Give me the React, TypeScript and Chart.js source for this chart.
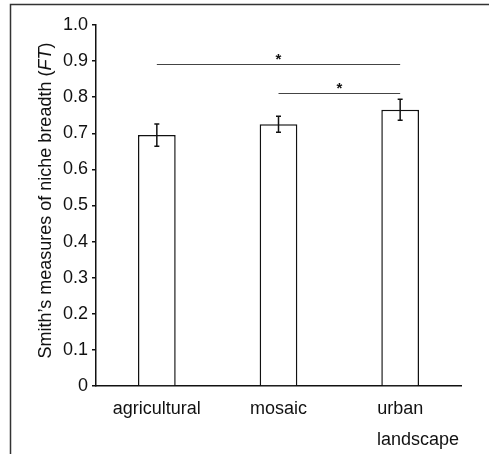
import React, { useEffect, useRef } from "react";
import { Chart, registerables } from "chart.js";

Chart.register(...registerables);

const categories = ["agricultural", "mosaic", "urban"];
const means = [0.695, 0.725, 0.765];
const errors = [0.031, 0.022, 0.029];
const yTickValues = [0, 0.1, 0.2, 0.3, 0.4, 0.5, 0.6, 0.7, 0.8, 0.9, 1.0];
const sigFrom = [0, 1];
const sigTo = [2, 2];
const sigLevel = [0.892, 0.8125];
const sigLabel = ["*", "*"];
const yTitleParts = ["Smith\u2019s measures of niche breadth (", "FT", ")"];
const yTitleItalic = [false, true, false];
const xTitle = "landscape";

const FONT = "'Liberation Sans', Arial, sans-serif";
const INK = "#111111";
const FS = 18;

const extrasPlugin = {
  id: "extras",
  afterDraw(chart: any) {
    const ctx = chart.ctx;
    const xs = chart.scales.x;
    const ys = chart.scales.y;
    ctx.save();
    // frame (top + left)
    ctx.strokeStyle = "#333";
    ctx.lineWidth = 1.5;
    ctx.beginPath();
    ctx.moveTo(10.5, 454);
    ctx.lineTo(10.5, 4.5);
    ctx.lineTo(489, 4.5);
    ctx.stroke();

    // error bars
    ctx.strokeStyle = INK;
    ctx.lineWidth = 1.5;
    for (let i = 0; i < means.length; i++) {
      const x = xs.getPixelForValue(i);
      const yt = ys.getPixelForValue(means[i] + errors[i]);
      const yb = ys.getPixelForValue(means[i] - errors[i]);
      ctx.beginPath();
      ctx.moveTo(x, yt);
      ctx.lineTo(x, yb);
      ctx.moveTo(x - 2.5, yt);
      ctx.lineTo(x + 2.5, yt);
      ctx.moveTo(x - 2.5, yb);
      ctx.lineTo(x + 2.5, yb);
      ctx.stroke();
    }

    // significance brackets
    for (let k = 0; k < sigFrom.length; k++) {
      const x1 = xs.getPixelForValue(sigFrom[k]);
      const x2 = xs.getPixelForValue(sigTo[k]);
      const y = Math.round(ys.getPixelForValue(sigLevel[k])) + 0.5;
      ctx.strokeStyle = "#444";
      ctx.lineWidth = 1;
      ctx.beginPath();
      ctx.moveTo(x1, y);
      ctx.lineTo(x2, y);
      ctx.stroke();
      ctx.fillStyle = INK;
      ctx.font = `bold 15px ${FONT}`;
      ctx.textAlign = "center";
      ctx.textBaseline = "middle";
      ctx.fillText(sigLabel[k], (x1 + x2) / 2, y - 5);
    }

    // y title (rotated, mixed italic)
    ctx.save();
    const cy = (ys.top + ys.bottom) / 2 - 5;
    ctx.translate(51, cy);
    ctx.rotate(-Math.PI / 2);
    ctx.fillStyle = INK;
    ctx.textBaseline = "alphabetic";
    ctx.textAlign = "left";
    const widths = yTitleParts.map((p, i) => {
      ctx.font = `${yTitleItalic[i] ? "italic " : ""}${FS}px ${FONT}`;
      return ctx.measureText(p).width;
    });
    const total = widths.reduce((a, b) => a + b, 0);
    let cx = -total / 2;
    yTitleParts.forEach((p, i) => {
      ctx.font = `${yTitleItalic[i] ? "italic " : ""}${FS}px ${FONT}`;
      ctx.fillText(p, cx, 0);
      cx += widths[i];
    });
    ctx.restore();

    // x title
    ctx.fillStyle = INK;
    ctx.font = `${FS}px ${FONT}`;
    ctx.textAlign = "left";
    ctx.textBaseline = "alphabetic";
    ctx.fillText(xTitle, 377, 445);
    ctx.restore();
  },
};

export default function App() {
  const ref = useRef<HTMLCanvasElement | null>(null);
  useEffect(() => {
    if (!ref.current) return;
    const chart = new Chart(ref.current, {
      type: "bar",
      data: {
        labels: categories,
        datasets: [
          {
            data: means,
            backgroundColor: "#ffffff",
            borderColor: INK,
            borderWidth: 1.5,
            barPercentage: 0.31,
            categoryPercentage: 1,
          },
        ],
      },
      options: {
        animation: false,
        responsive: false,
        devicePixelRatio: 1,
        layout: { padding: { top: 25, right: 28, left: 0, bottom: 0 } },
        plugins: { legend: { display: false }, tooltip: { enabled: false } },
        scales: {
          x: {
            type: "category",
            offset: true,
            grid: { display: false },
            border: { display: true, color: INK, width: 1.5 },
            ticks: { color: INK, font: { family: FONT, size: FS }, padding: 4, maxRotation: 0 },
            afterFit: (s: any) => {
              s.height = 68;
            },
          },
          y: {
            min: 0,
            max: 1,
            afterBuildTicks: (s: any) => {
              s.ticks = yTickValues.map((v) => ({ value: v }));
            },
            ticks: {
              color: INK,
              font: { family: FONT, size: FS },
              padding: 4,
              callback: (v: any) => (Number(v) === 0 ? "0" : Number(v).toFixed(1)),
            },
            grid: { drawOnChartArea: false, drawTicks: true, tickLength: 4, color: INK, lineWidth: 1.5 },
            border: { display: true, color: INK, width: 1.5 },
            afterFit: (s: any) => {
              s.width = 96;
            },
          },
        },
      },
      plugins: [extrasPlugin],
    } as any);
    return () => chart.destroy();
  }, []);
  return (
    <div style={{ position: "fixed", left: 0, top: 0, width: 489, height: 454, background: "#fff" }}>
      <canvas ref={ref} width={489} height={454} style={{ width: 489, height: 454 }} />
    </div>
  );
}
